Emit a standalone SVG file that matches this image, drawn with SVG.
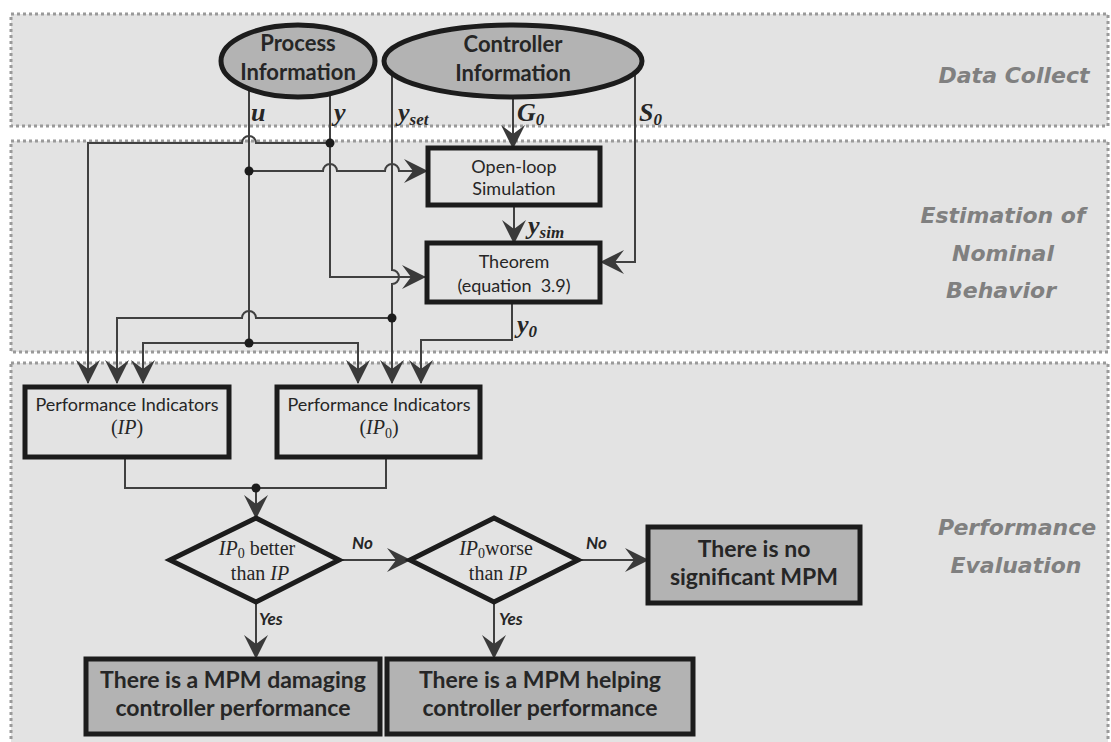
<svg xmlns="http://www.w3.org/2000/svg" width="1111" height="742" viewBox="0 0 1111 742">
<defs>
<style>
.band{fill:#e3e3e3;stroke:#9a9a9a;stroke-width:3;stroke-dasharray:3 3}
.box{fill:#e3e3e3;stroke:#1c1c1c;stroke-width:5}
.res{fill:#b3b3b3;stroke:#1c1c1c;stroke-width:5}
.ell{fill:#b3b3b3;stroke:#1c1c1c;stroke-width:5}
.c{fill:none;stroke:#404040;stroke-width:2}
.ca{fill:none;stroke:#404040;stroke-width:2;marker-end:url(#arr)}
.dot{fill:#1c1c1c}
.t{font-family:Lato,"Open Sans",sans-serif;fill:#262626;text-anchor:middle}
.tb{font-family:Lato,"Open Sans",sans-serif;font-weight:bold;fill:#262626;text-anchor:middle}
.m{font-family:"Liberation Serif",serif;font-weight:bold;font-style:italic;fill:#262626;font-size:26px}
.s{font-family:"Liberation Serif",serif;fill:#262626;font-size:20px;text-anchor:middle}
.lab{font-family:Lato,"Open Sans",sans-serif;font-weight:bold;font-style:italic;fill:#262626;font-size:17px}
.side{font-family:"DejaVu Sans",sans-serif;font-weight:bold;font-style:italic;fill:#808080;font-size:22px;text-anchor:middle}
</style>
<marker id="arr" markerUnits="userSpaceOnUse" viewBox="0 0 24 24" refX="23" refY="12" markerWidth="24" markerHeight="24" orient="auto">
<path d="M0,0 L24,12 L0,24 L9,12 Z" fill="#3a3a3a"/>
</marker>
</defs>
<rect width="1111" height="742" fill="#ffffff"/>
<g id="bands">
<rect class="band" x="11" y="14" width="1097" height="112"/>
<rect class="band" x="11" y="141" width="1097" height="211"/>
<rect class="band" x="11" y="363" width="1097" height="390"/>
<text class="side" x="1014" y="83">Data Collect</text>
<text class="side" x="1003" y="223">Estimation of</text>
<text class="side" x="1003" y="261">Nominal</text>
<text class="side" x="1001" y="298">Behavior</text>
<text class="side" x="1017" y="535">Performance</text>
<text class="side" x="1016" y="573">Evaluation</text>
</g>
<g id="connectors">
<path class="c" d="M249,89 L249,343"/>
<path class="c" d="M330,94 L330,143"/>
<path class="ca" d="M330,143 L256,143 A7,7 0 0 0 242,143 L88,143 L88,383"/>
<path class="ca" d="M249,171 L323,171 A7,7 0 0 1 337,171 L385,171 A7,7 0 0 1 399,171 L427,171"/>
<path class="ca" d="M330,143 L330,277 L425,277"/>
<path class="ca" d="M392,74 L392,270 A7,7 0 0 1 392,284 L392,383"/>
<path class="ca" d="M392,318 L256,318 A7,7 0 0 0 242,318 L117,318 L117,383"/>
<path class="ca" d="M249,343 L143,343 L143,383"/>
<path class="ca" d="M249,343 L358,343 L358,383"/>
<path class="ca" d="M513,97 L513,148"/>
<path class="ca" d="M635,73 L635,262 L601,262"/>
<path class="ca" d="M514,205 L514,243"/>
<path class="ca" d="M512,302 L512,340 L421,340 L421,383"/>
<path class="c" d="M125,457 L125,488 L386,488 L386,457"/>
<path class="ca" d="M256,488 L256,518"/>
<path class="ca" d="M339,560 L410,560"/>
<path class="ca" d="M578,560 L648,560"/>
<path class="ca" d="M256,602 L256,658"/>
<path class="ca" d="M494,602 L494,658"/>
<circle class="dot" cx="330" cy="143" r="4.5"/>
<circle class="dot" cx="249" cy="171" r="4.5"/>
<circle class="dot" cx="392" cy="318" r="4.5"/>
<circle class="dot" cx="249" cy="343" r="4.5"/>
<circle class="dot" cx="256" cy="488" r="4.5"/>
<text class="m" x="251" y="121">u</text>
<text class="m" x="334" y="121">y</text>
<text class="m" x="398" y="121">y<tspan font-size="17" dy="4">set</tspan></text>
<text class="m" x="517" y="121">G<tspan font-size="17" dy="4">0</tspan></text>
<text class="m" x="639" y="121">S<tspan font-size="17" dy="4">0</tspan></text>
<text class="m" x="528" y="234">y<tspan font-size="17" dy="4">sim</tspan></text>
<text class="m" x="517" y="333">y<tspan font-size="17" dy="4">0</tspan></text>
<text class="lab" x="352" y="549">No</text>
<text class="lab" x="586" y="549">No</text>
<text class="lab" x="259" y="625">Yes</text>
<text class="lab" x="499" y="625">Yes</text>
</g>
<g id="process-info">
<ellipse class="ell" cx="298" cy="61" rx="77" ry="36"/>
<text class="tb" x="298" y="51" font-size="22">Process</text>
<text class="tb" x="298" y="80" font-size="22">Information</text>
</g>
<g id="controller-info">
<ellipse class="ell" cx="513" cy="61" rx="129" ry="36"/>
<text class="tb" x="513" y="52" font-size="22">Controller</text>
<text class="tb" x="513" y="81" font-size="22">Information</text>
</g>
<g id="open-loop">
<rect class="box" x="428" y="148" width="172" height="57"/>
<text class="t" x="514" y="173" font-size="18">Open-loop</text>
<text class="t" x="514" y="195" font-size="18">Simulation</text>
</g>
<g id="theorem">
<rect class="box" x="427" y="243" width="173" height="59"/>
<text class="t" x="514" y="268" font-size="18">Theorem</text>
<text class="t" x="514" y="292" font-size="18" xml:space="preserve">(equation  3.9)</text>
</g>
<g id="pi">
<rect class="box" x="25" y="387" width="204" height="70"/>
<text class="t" x="127" y="411" font-size="18">Performance Indicators</text>
<text class="s" x="127" y="434">(<tspan font-style="italic">IP</tspan>)</text>
</g>
<g id="pi0">
<rect class="box" x="277" y="387" width="203" height="70"/>
<text class="t" x="379" y="411" font-size="18">Performance Indicators</text>
<text class="s" x="379" y="434">(<tspan font-style="italic">IP</tspan><tspan font-size="14" dy="4">0</tspan><tspan dy="-4">)</tspan></text>
</g>
<g id="decision1">
<path class="box" d="M256,518 L339,560 L256,602 L170,560 Z"/>
<text class="s" x="257" y="555"><tspan font-style="italic">IP</tspan><tspan font-size="14" dy="3">0</tspan><tspan dy="-3"> better</tspan></text>
<text class="s" x="260" y="580">than <tspan font-style="italic">IP</tspan></text>
</g>
<g id="decision2">
<path class="box" d="M494,518 L578,560 L494,602 L410,560 Z"/>
<text class="s" x="496" y="555"><tspan font-style="italic">IP</tspan><tspan font-size="14" dy="3">0</tspan><tspan dy="-3">worse</tspan></text>
<text class="s" x="498" y="580">than <tspan font-style="italic">IP</tspan></text>
</g>
<g id="no-mpm">
<rect class="res" x="648" y="527" width="212" height="76"/>
<text class="tb" x="754" y="557" font-size="23">There is no</text>
<text class="tb" x="754" y="585" font-size="23">significant MPM</text>
</g>
<g id="mpm-damaging">
<rect class="res" x="86" y="659" width="294" height="75"/>
<text class="tb" x="233" y="688" font-size="23">There is a MPM damaging</text>
<text class="tb" x="233" y="716" font-size="23">controller performance</text>
</g>
<g id="mpm-helping">
<rect class="res" x="387" y="659" width="306" height="75"/>
<text class="tb" x="540" y="688" font-size="23">There is a MPM helping</text>
<text class="tb" x="540" y="716" font-size="23">controller performance</text>
</g>
</svg>
